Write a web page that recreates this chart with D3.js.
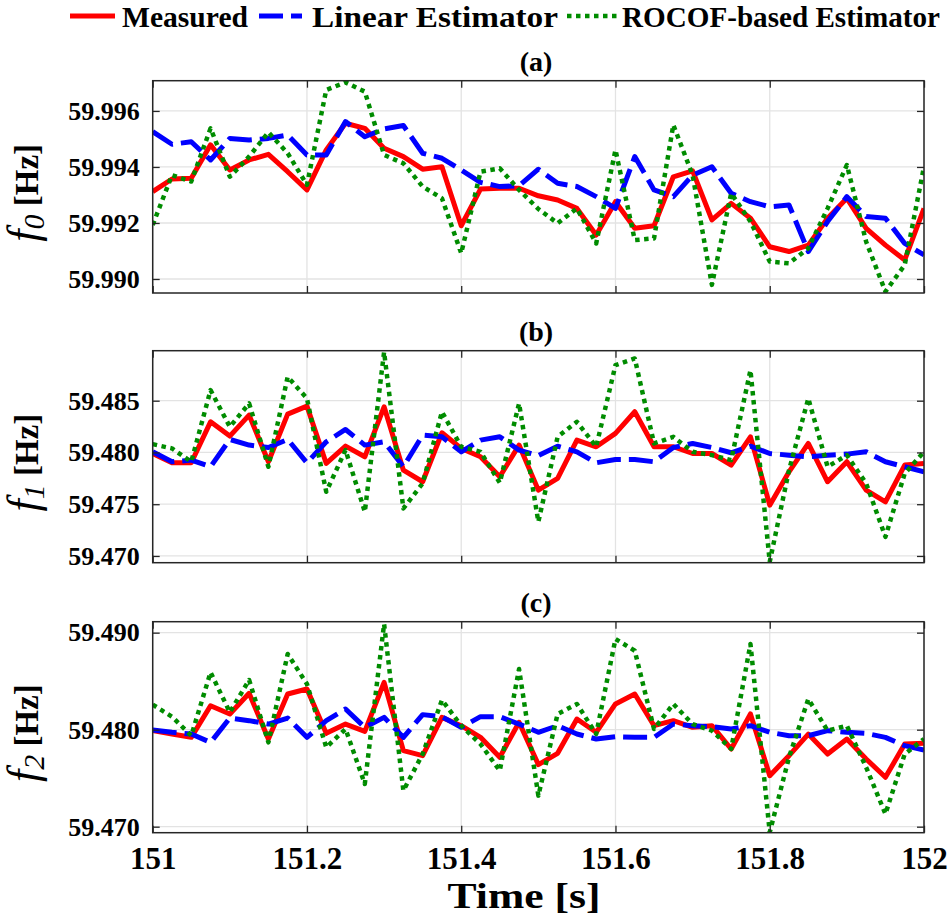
<!DOCTYPE html>
<html>
<head>
<meta charset="utf-8">
<script src="https://cdn.jsdelivr.net/npm/d3@7"></script>
<style>
  html, body { margin: 0; padding: 0; background: #fff; }
  svg { display: block; }
  text { font-family: "Liberation Serif", "Times New Roman", serif; fill: #000; }
</style>
</head>
<body>
<svg id="chart" width="948" height="917"></svg>
<script>
// Sample instants (s)
const time = [151.000, 151.025, 151.050, 151.075, 151.100, 151.125, 151.150, 151.175, 151.200, 151.225,
              151.250, 151.275, 151.300, 151.325, 151.350, 151.375, 151.400, 151.425, 151.450, 151.475,
              151.500, 151.525, 151.550, 151.575, 151.600, 151.625, 151.650, 151.675, 151.700, 151.725,
              151.750, 151.775, 151.800, 151.825, 151.850, 151.875, 151.900, 151.925, 151.950, 151.975, 152.000];

// (a) f0
const measuredA = [59.99312, 59.99357, 59.99360, 59.99479, 59.99389, 59.99425, 59.99445, 59.99383, 59.99318, 59.99461,
                   59.99556, 59.99538, 59.99467, 59.99437, 59.99392, 59.99401, 59.99190, 59.99321, 59.99324, 59.99324,
                   59.99297, 59.99282, 59.99252, 59.99157, 59.99276, 59.99181, 59.99190, 59.99365, 59.99386, 59.99211,
                   59.99270, 59.99217, 59.99115, 59.99098, 59.99121, 59.99217, 59.99288, 59.99181, 59.99121, 59.99068, 59.99252];
const linearA   = [59.99526, 59.99481, 59.99490, 59.99425, 59.99502, 59.99496, 59.99502, 59.99514, 59.99443, 59.99443,
                   59.99562, 59.99508, 59.99536, 59.99548, 59.99449, 59.99431, 59.99389, 59.99345, 59.99330, 59.99333,
                   59.99392, 59.99342, 59.99330, 59.99294, 59.99252, 59.99437, 59.99318, 59.99294, 59.99371, 59.99401,
                   59.99306, 59.99276, 59.99258, 59.99264, 59.99098, 59.99205, 59.99294, 59.99223, 59.99217, 59.99127, 59.99086];
const rocofA    = [59.99193, 59.99371, 59.99348, 59.99538, 59.99365, 59.99437, 59.99524, 59.99449, 59.99336, 59.99675,
                   59.99702, 59.99669, 59.99443, 59.99413, 59.99330, 59.99288, 59.99092, 59.99383, 59.99395, 59.99318,
                   59.99250, 59.99199, 59.99252, 59.99127, 59.99461, 59.99139, 59.99145, 59.99550, 59.99371, 59.98979,
                   59.99306, 59.99205, 59.99062, 59.99056, 59.99110, 59.99252, 59.99407, 59.99133, 59.98955, 59.99050, 59.99401];

// (b) f1
const measuredB = [59.47990, 59.47900, 59.47900, 59.48296, 59.48158, 59.48361, 59.47910, 59.48370, 59.48448, 59.47894,
                   59.48061, 59.47958, 59.48441, 59.47829, 59.47717, 59.48190, 59.48039, 59.47958, 59.47765, 59.48071,
                   59.47636, 59.47749, 59.48119, 59.48055, 59.48184, 59.48393, 59.48055, 59.48055, 59.47990, 59.47990,
                   59.47878, 59.48151, 59.47491, 59.47813, 59.48087, 59.47717, 59.47910, 59.47636, 59.47523, 59.47878, 59.47894];
const linearB   = [59.48006, 59.47910, 59.47926, 59.47862, 59.48126, 59.48071, 59.48048, 59.48126, 59.47900, 59.48103,
                   59.48222, 59.48071, 59.48103, 59.47862, 59.48167, 59.48151, 59.48006, 59.48119, 59.48151, 59.48023,
                   59.47970, 59.48061, 59.48006, 59.47900, 59.47932, 59.47932, 59.47910, 59.48048, 59.48087, 59.48048,
                   59.47997, 59.48061, 59.47990, 59.47974, 59.47958, 59.47974, 59.47984, 59.48006, 59.47910, 59.47862, 59.47813];
const rocofB    = [59.48080, 59.48039, 59.47910, 59.48602, 59.48248, 59.48473, 59.47862, 59.48731, 59.48522, 59.47620,
                   59.48023, 59.47427, 59.48970, 59.47459, 59.47701, 59.48393, 59.48055, 59.48006, 59.47707, 59.48473,
                   59.47330, 59.48151, 59.48296, 59.48055, 59.48844, 59.48908, 59.48087, 59.48151, 59.48006, 59.47974,
                   59.47926, 59.48795, 59.46944, 59.47829, 59.48522, 59.47862, 59.47974, 59.47701, 59.47185, 59.47797, 59.48006];

// (c) f2
const measuredC = [59.47990, 59.47955, 59.47921, 59.48247, 59.48162, 59.48375, 59.47904, 59.48368, 59.48419, 59.47962,
                   59.48058, 59.47983, 59.48488, 59.47784, 59.47732, 59.48127, 59.48041, 59.47921, 59.47715, 59.48076,
                   59.47640, 59.47756, 59.48110, 59.47973, 59.48265, 59.48368, 59.48041, 59.48093, 59.48024, 59.48041,
                   59.47801, 59.48162, 59.47526, 59.47732, 59.47955, 59.47749, 59.47904, 59.47698, 59.47509, 59.47852, 59.47859];
const linearC   = [59.47997, 59.47973, 59.47955, 59.47869, 59.48120, 59.48093, 59.48058, 59.48120, 59.47921, 59.48093,
                   59.48213, 59.48024, 59.48127, 59.47921, 59.48155, 59.48134, 59.48024, 59.48134, 59.48134, 59.48058,
                   59.47973, 59.48041, 59.47955, 59.47904, 59.47928, 59.47921, 59.47921, 59.48058, 59.48041, 59.48031,
                   59.48007, 59.48041, 59.47973, 59.47938, 59.47938, 59.47990, 59.47973, 59.47962, 59.47921, 59.47835, 59.47790];
const rocofC    = [59.48258, 59.48134, 59.47938, 59.48591, 59.48179, 59.48512, 59.47869, 59.48780, 59.48471, 59.47818,
                   59.48007, 59.47440, 59.49089, 59.47371, 59.47749, 59.48306, 59.48041, 59.47852, 59.47577, 59.48625,
                   59.47320, 59.48162, 59.48265, 59.47955, 59.48935, 59.48814, 59.48007, 59.48265, 59.48058, 59.47990,
                   59.47801, 59.48883, 59.46942, 59.47715, 59.48316, 59.47990, 59.48041, 59.47612, 59.47131, 59.47749, 59.47904];

// Axis ticks
const xTicks  = [151, 151.2, 151.4, 151.6, 151.8, 152];
const yTicksA = [59.990, 59.992, 59.994, 59.996];
const yTicksB = [59.470, 59.475, 59.480, 59.485];
const yTicksC = [59.470, 59.480, 59.490];

const seriesNames = ["Measured", "Linear Estimator", "ROCOF-based Estimator"];

const styles = [
  { color: "#ff0000", width: 5,   dash: null },
  { color: "#0000ff", width: 5,   dash: "24,8" },
  { color: "#008c00", width: 4.5, dash: "4.5,4.5" }
];

const panels = [
  { title: "(a)", sub: "0", top: 80.7,  bottom: 293,   domain: [59.9895, 59.99708], ticks: yTicksA, series: [measuredA, linearA, rocofA] },
  { title: "(b)", sub: "1", top: 350.7, bottom: 562.7, domain: [59.46935, 59.48983], ticks: yTicksB, series: [measuredB, linearB, rocofB] },
  { title: "(c)", sub: "2", top: 621.7, bottom: 832.7, domain: [59.46938, 59.49113], ticks: yTicksC, series: [measuredC, linearC, rocofC] }
];

const svg = d3.select("#chart");
const left = 152.7, right = 924;
const x = d3.scaleLinear().domain([151, 152]).range([left, right]);
const axisColor = "#262626";
const gridColor = "#e3e3e3";
const serif = "'Liberation Serif', 'Times New Roman', serif";

panels.forEach((p, pi) => {
  const y = d3.scaleLinear().domain(p.domain).range([p.bottom, p.top]);
  const g = svg.append("g");

  // grid
  g.append("g").selectAll("line").data(xTicks).join("line")
    .attr("x1", d => x(d)).attr("x2", d => x(d))
    .attr("y1", p.top).attr("y2", p.bottom)
    .attr("stroke", gridColor).attr("stroke-width", 1.3);
  g.append("g").selectAll("line").data(p.ticks).join("line")
    .attr("x1", left).attr("x2", right)
    .attr("y1", d => y(d)).attr("y2", d => y(d))
    .attr("stroke", gridColor).attr("stroke-width", 1.3);

  // data lines, clipped to the axes box
  const clipId = "clip" + pi;
  svg.append("defs").append("clipPath").attr("id", clipId)
    .append("rect").attr("x", left).attr("y", p.top)
    .attr("width", right - left).attr("height", p.bottom - p.top);

  const line = d3.line().x((d, i) => x(time[i])).y(d => y(d));
  const lg = g.append("g").attr("clip-path", `url(#${clipId})`);
  p.series.forEach((s, si) => {
    const st = styles[si];
    lg.append("path").datum(s)
      .attr("d", line)
      .attr("fill", "none")
      .attr("stroke", st.color)
      .attr("stroke-width", st.width)
      .attr("stroke-linejoin", "round")
      .attr("stroke-dasharray", st.dash);
  });

  // axes with inward ticks on all four sides
  const yl = g.append("g").attr("transform", `translate(${left},0)`)
    .call(d3.axisLeft(y).tickValues(p.ticks).tickSize(-7).tickPadding(13).tickFormat(d3.format(".3f")));
  const yr = g.append("g").attr("transform", `translate(${right},0)`)
    .call(d3.axisRight(y).tickValues(p.ticks).tickSize(-7).tickFormat(""));
  const xt = g.append("g").attr("transform", `translate(0,${p.top})`)
    .call(d3.axisTop(x).tickValues(xTicks).tickSize(-7).tickFormat(""));
  const xb = g.append("g").attr("transform", `translate(0,${p.bottom})`)
    .call(d3.axisBottom(x).tickValues(xTicks).tickSize(-7).tickPadding(14)
      .tickFormat(pi === panels.length - 1 ? d3.format("") : ""));
  [yl, yr, xt, xb].forEach(a => {
    a.select(".domain").remove();
    a.selectAll(".tick line").attr("stroke", axisColor).attr("stroke-width", 1.3);
  });
  yl.selectAll(".tick text")
    .attr("font-size", 26).attr("font-weight", "bold")
    .attr("font-family", serif).attr("fill", "#000");
  xb.selectAll(".tick text")
    .attr("font-size", 31).attr("font-weight", "bold")
    .attr("font-family", serif).attr("fill", "#000");

  // box
  g.append("rect").attr("x", left).attr("y", p.top)
    .attr("width", right - left).attr("height", p.bottom - p.top)
    .attr("fill", "none").attr("stroke", axisColor).attr("stroke-width", 1.5);

  // panel title
  g.append("text").attr("x", 536).attr("y", p.top - 10)
    .attr("text-anchor", "middle").attr("font-size", 28).attr("font-weight", "bold")
    .text(p.title);

  // y label: f_k [Hz]
  const cy = (p.top + p.bottom) / 2 + 6;
  const lab = g.append("text")
    .attr("transform", `translate(38,${cy}) rotate(-90)`)
    .attr("text-anchor", "middle");
  lab.append("tspan").attr("font-style", "italic").attr("font-size", 44).text("f");
  lab.append("tspan").attr("font-style", "italic").attr("font-size", 30).attr("dy", 6).text(p.sub);
  lab.append("tspan").attr("font-weight", "bold").attr("font-size", 33).attr("dy", -6).text(" [Hz]");
});

// x-axis title
svg.append("text").attr("x", 524).attr("y", 908)
  .attr("text-anchor", "middle").attr("font-size", 36).attr("font-weight", "bold")
  .attr("textLength", 153).attr("lengthAdjust", "spacingAndGlyphs")
  .text("Time [s]");

// legend
const legendItems = [
  { x1: 70,  x2: 115, tx: 122, tl: 126 },
  { x1: 259, x2: 302, tx: 312, tl: 246 },
  { x1: 567, x2: 618, tx: 622, tl: 318 }
];
const lgd = svg.append("g");
legendItems.forEach((it, i) => {
  const st = styles[i];
  lgd.append("line").attr("x1", it.x1).attr("x2", it.x2).attr("y1", 16).attr("y2", 16)
    .attr("stroke", st.color).attr("stroke-width", st.width).attr("stroke-dasharray", st.dash);
  lgd.append("text").attr("x", it.tx).attr("y", 27)
    .attr("font-size", 30).attr("font-weight", "bold")
    .attr("textLength", it.tl).attr("lengthAdjust", "spacingAndGlyphs")
    .text(seriesNames[i]);
});
</script>
</body>
</html>
